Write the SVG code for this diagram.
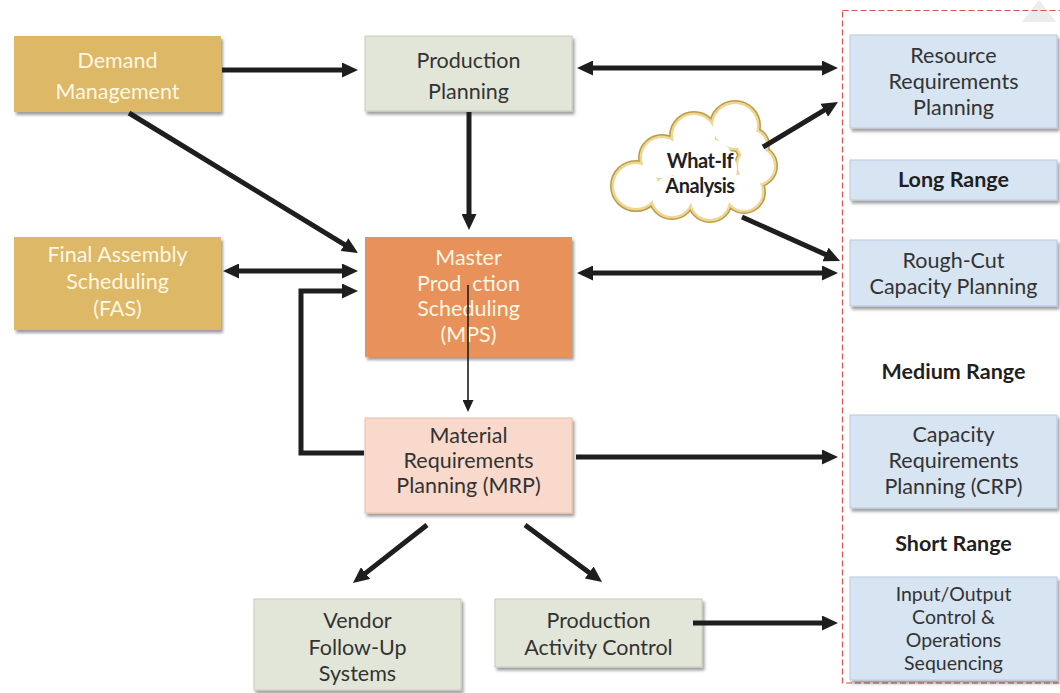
<svg xmlns="http://www.w3.org/2000/svg" width="1060" height="693" viewBox="0 0 1060 693">
  <defs>
    <filter id="shadow" x="-10%" y="-10%" width="125%" height="130%">
      <feDropShadow dx="2" dy="3" stdDeviation="1.6" flood-color="#000" flood-opacity="0.38"/>
    </filter>
    <marker id="ah" markerUnits="userSpaceOnUse" markerWidth="16" markerHeight="15" refX="4" refY="7.5" orient="auto-start-reverse">
      <path d="M0,0 L16,7.5 L0,15 z" fill="#1e1e1e"/>
    </marker>
    <marker id="ahs" markerUnits="userSpaceOnUse" markerWidth="12" markerHeight="11" refX="2" refY="5.5" orient="auto">
      <path d="M0,0 L12,5.5 L0,11 z" fill="#1e1e1e"/>
    </marker>
    <style>
      .gold { fill: #DDB866; }
      .mps { fill: #E8915A; }
      .mrp { fill: #F8D9CC; stroke: #ECBCA8; stroke-width: 1; }
      .sage { fill: #E2E6D9; stroke: #C6CABD; stroke-width: 1; }
      .blue { fill: #D7E4F1; stroke: #B7CADD; stroke-width: 1; }
      .box { filter: url(#shadow); }
      text { font-family: Lato, "Open Sans", "Liberation Sans", sans-serif; font-size: 21.5px; text-anchor: middle; }
      .light { fill: #FFF7E4; }
      .dark { fill: #333333; }
      .tight { font-size: 19.5px; }
      .bold { font-weight: bold; fill: #1f1f1f; }
      .cloud-label { font-size: 20px; letter-spacing: -0.5px; stroke: #ffffff; stroke-width: 3; paint-order: stroke; }
      .conn { fill: none; stroke: #1e1e1e; stroke-width: 5; }
      .thin { fill: none; stroke: #1e1e1e; stroke-width: 1.6; }
    </style>
  </defs>

  <rect width="1060" height="693" fill="#ffffff"/>
  <!-- faint corner mark -->
  <polygon points="1022,22 1039,0 1056,22" fill="#ececec"/>

  <!-- planning horizon frame -->
  <rect x="842.5" y="10.5" width="222" height="672.5" fill="none" stroke="#D9534F" stroke-width="1.2" stroke-dasharray="6 3"/>

  <g id="demand-management">
    <rect class="box gold" x="14" y="36" width="207" height="76"/>
    <text class="light" x="117.5" y="68">Demand</text>
    <text class="light" x="117.5" y="99">Management</text>
  </g>

  <g id="production-planning">
    <rect class="box sage" x="365" y="36" width="207" height="75"/>
    <text class="dark" x="468.5" y="68">Production</text>
    <text class="dark" x="468.5" y="99">Planning</text>
  </g>

  <g id="final-assembly-scheduling">
    <rect class="box gold" x="14" y="237" width="207" height="93"/>
    <text class="light" x="117.5" y="262">Final Assembly</text>
    <text class="light" x="117.5" y="289">Scheduling</text>
    <text class="light" x="117.5" y="316">(FAS)</text>
  </g>

  <g id="master-production-scheduling">
    <rect class="box mps" x="365" y="237" width="207" height="120"/>
    <text class="light" x="468.5" y="265">Master</text>
    <text class="light" x="468.5" y="291">Prod&#160;&#160;ction</text>
    <text class="light" x="468.5" y="316">Scheduling</text>
    <text class="light" x="468.5" y="342">(MPS)</text>
  </g>

  <g id="material-requirements-planning">
    <rect class="box mrp" x="365" y="418" width="207" height="95"/>
    <text class="dark" x="468.5" y="443">Material</text>
    <text class="dark" x="468.5" y="468">Requirements</text>
    <text class="dark" x="468.5" y="493">Planning (MRP)</text>
  </g>

  <g id="vendor-follow-up">
    <rect class="box sage" x="254" y="599" width="207" height="91"/>
    <text class="dark" x="357.5" y="628">Vendor</text>
    <text class="dark" x="357.5" y="655">Follow-Up</text>
    <text class="dark" x="357.5" y="681">Systems</text>
  </g>

  <g id="production-activity-control">
    <rect class="box sage" x="495" y="599" width="207" height="68"/>
    <text class="dark" x="598.5" y="628">Production</text>
    <text class="dark" x="598.5" y="655">Activity Control</text>
  </g>

  <g id="resource-requirements-planning">
    <rect class="box blue" x="850" y="35" width="207" height="93"/>
    <text class="dark" x="953.5" y="63">Resource</text>
    <text class="dark" x="953.5" y="89">Requirements</text>
    <text class="dark" x="953.5" y="115">Planning</text>
  </g>

  <g id="long-range">
    <rect class="box blue" x="850" y="160" width="207" height="40"/>
    <text class="bold" x="953.5" y="187">Long Range</text>
  </g>

  <g id="rough-cut-capacity-planning">
    <rect class="box blue" x="850" y="240" width="207" height="66"/>
    <text class="dark" x="953.5" y="268">Rough-Cut</text>
    <text class="dark" x="953.5" y="294">Capacity Planning</text>
  </g>

  <g id="medium-range">
    <text class="bold" x="953.5" y="379">Medium Range</text>
  </g>

  <g id="capacity-requirements-planning">
    <rect class="box blue" x="850" y="415" width="207" height="93"/>
    <text class="dark" x="953.5" y="442">Capacity</text>
    <text class="dark" x="953.5" y="468">Requirements</text>
    <text class="dark" x="953.5" y="494">Planning (CRP)</text>
  </g>

  <g id="short-range">
    <text class="bold" x="953.5" y="551">Short Range</text>
  </g>

  <g id="input-output-control">
    <rect class="box blue" x="850" y="577" width="207" height="103"/>
    <text class="dark tight" x="953.5" y="601">Input/Output</text>
    <text class="dark tight" x="953.5" y="624">Control &amp;</text>
    <text class="dark tight" x="953.5" y="647">Operations</text>
    <text class="dark tight" x="953.5" y="670">Sequencing</text>
  </g>

  <g id="what-if-analysis">
    <!-- cloud: outer dark ring, inner light ring, then white body -->
    <g fill="none" stroke="#BD9B43" stroke-width="8">
      <circle cx="735" cy="126" r="22"/>
      <circle cx="694" cy="136" r="21"/>
      <circle cx="662" cy="158" r="20"/>
      <circle cx="636" cy="186" r="22"/>
      <circle cx="672" cy="196" r="20"/>
      <circle cx="710" cy="200" r="19"/>
      <circle cx="744" cy="192" r="18"/>
      <circle cx="756" cy="166" r="18"/>
      <circle cx="752" cy="145" r="14"/>
    </g>
    <g fill="none" stroke="#EBD796" stroke-width="5">
      <circle cx="735" cy="126" r="22"/>
      <circle cx="694" cy="136" r="21"/>
      <circle cx="662" cy="158" r="20"/>
      <circle cx="636" cy="186" r="22"/>
      <circle cx="672" cy="196" r="20"/>
      <circle cx="710" cy="200" r="19"/>
      <circle cx="744" cy="192" r="18"/>
      <circle cx="756" cy="166" r="18"/>
      <circle cx="752" cy="145" r="14"/>
    </g>
    <g fill="#ffffff">
      <circle cx="735" cy="126" r="22"/>
      <circle cx="694" cy="136" r="21"/>
      <circle cx="662" cy="158" r="20"/>
      <circle cx="636" cy="186" r="22"/>
      <circle cx="672" cy="196" r="20"/>
      <circle cx="710" cy="200" r="19"/>
      <circle cx="744" cy="192" r="18"/>
      <circle cx="756" cy="166" r="18"/>
      <circle cx="752" cy="145" r="14"/>
      <circle cx="705" cy="170" r="32"/>
    </g>
    <text class="bold cloud-label" x="700" y="168">What-If</text>
    <text class="bold cloud-label" x="700" y="193">Analysis</text>
  </g>

  <g id="connectors">
    <line class="conn" x1="222" y1="70" x2="346" y2="70" marker-end="url(#ah)"/>
    <line class="conn" x1="589" y1="68" x2="826" y2="68" marker-start="url(#ah)" marker-end="url(#ah)"/>
    <line class="conn" x1="469" y1="112" x2="469" y2="218" marker-end="url(#ah)"/>
    <line class="conn" x1="129" y1="113" x2="347.8" y2="246.7" marker-end="url(#ah)"/>
    <line class="conn" x1="235" y1="271" x2="346" y2="271" marker-start="url(#ah)" marker-end="url(#ah)"/>
    <polyline class="conn" points="364,453 301,453 301,291 346,291" marker-end="url(#ah)"/>
    <line class="conn" x1="589" y1="273" x2="826" y2="273" marker-start="url(#ah)" marker-end="url(#ah)"/>
    <line class="thin" x1="468" y1="285" x2="468" y2="402" marker-end="url(#ahs)"/>
    <line class="conn" x1="576" y1="457" x2="826" y2="457" marker-end="url(#ah)"/>
    <line class="conn" x1="427" y1="525" x2="362.4" y2="575.6" marker-end="url(#ah)"/>
    <line class="conn" x1="525" y1="525" x2="592.4" y2="574.9" marker-end="url(#ah)"/>
    <line class="conn" x1="693" y1="623" x2="826" y2="623" marker-end="url(#ah)"/>
    <line class="conn" x1="763" y1="147" x2="827.7" y2="108.2" marker-end="url(#ah)"/>
    <line class="conn" x1="742" y1="217" x2="829.1" y2="256.1" marker-end="url(#ah)"/>
  </g>
</svg>
